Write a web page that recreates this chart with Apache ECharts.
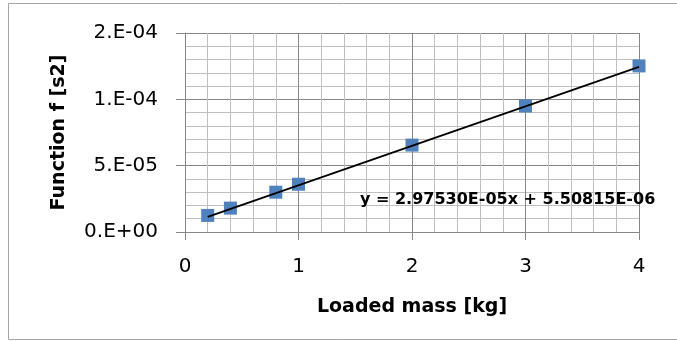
<!DOCTYPE html>
<html><head><meta charset="utf-8">
<script src="https://cdn.jsdelivr.net/npm/echarts@6/dist/echarts.min.js"></script>
<style>html,body{margin:0;padding:0;background:#fff}#c{width:677px;height:341px}</style>
</head><body><div id="c"></div>
<script>
var massKg = [0.2, 0.4, 0.8, 1, 2, 3, 4];
var functionF = [1.25e-5, 1.8e-5, 3.0e-5, 3.6e-5, 6.55e-5, 9.5e-5, 1.252e-4];
var trendX = [0.2, 4];
var trendY = [1.146e-5, 1.2452e-4];
var yTickLabels = ['0.E+00', '5.E-05', '1.E-04', '2.E-04'];
var xTickLabels = ['0', '1', '2', '3', '4'];
var equationText = 'y = 2.97530E-05x + 5.50815E-06';
var xTitle = 'Loaded mass [kg]';
var yTitle = 'Function f [s2]';

var chart = echarts.init(document.getElementById('c'));
var yInterval = 5e-5;
chart.setOption({
  animation: false,
  backgroundColor: '#fff',
  grid: {left: 185, right: 38, top: 33, bottom: 109},
  graphic: [
    {type: 'rect', shape: {x: 8.5, y: 3.5, width: 700, height: 336}, style: {fill: 'none', stroke: '#a6a6a6', lineWidth: 1}, z: -1},
    {type: 'text', left: 360, top: 192, style: {text: equationText, font: 'bold 16px "DejaVu Sans"', fill: '#000'}, z: 10}
  ],
  xAxis: {
    type: 'value', min: 0, max: 4, interval: 1,
    name: xTitle, nameLocation: 'middle', nameGap: 66,
    nameTextStyle: {fontFamily: 'DejaVu Sans', fontWeight: 'bold', fontSize: 19, color: '#000'},
    axisLine: {show: true, lineStyle: {color: '#868686', width: 1}},
    axisTick: {show: true, length: 8, lineStyle: {color: '#868686'}},
    axisLabel: {margin: 25, fontFamily: 'DejaVu Sans', fontSize: 20, color: '#000',
      formatter: function (v) { return xTickLabels[Math.round(v)]; }},
    splitLine: {show: true, lineStyle: {color: '#868686', width: 1}},
    minorTick: {show: false, splitNumber: 5},
    minorSplitLine: {show: true, lineStyle: {color: '#bfbfbf', width: 1}}
  },
  yAxis: {
    type: 'value', min: 0, max: 1.5e-4, interval: yInterval,
    name: yTitle, nameLocation: 'middle', nameGap: 116, nameRotate: 90,
    nameTextStyle: {fontFamily: 'DejaVu Sans', fontWeight: 'bold', fontSize: 19, color: '#000'},
    axisLine: {show: true, lineStyle: {color: '#868686', width: 1}},
    axisTick: {show: true, length: 9, lineStyle: {color: '#868686'}},
    axisLabel: {margin: 27, fontFamily: 'DejaVu Sans', fontSize: 20, color: '#000',
      formatter: function (v) { return yTickLabels[Math.round(v / yInterval)]; }},
    splitLine: {show: true, lineStyle: {color: '#868686', width: 1}},
    minorTick: {show: false, splitNumber: 5},
    minorSplitLine: {show: true, lineStyle: {color: '#bfbfbf', width: 1}}
  },
  series: [
    {type: 'scatter', symbol: 'rect', symbolSize: 13,
      itemStyle: {color: '#4f81bd', opacity: 1},
      data: massKg.map(function (x, i) { return [x, functionF[i]]; }), z: 3},
    {type: 'line', symbol: 'none', lineStyle: {color: '#000', width: 1.8},
      data: trendX.map(function (x, i) { return [x, trendY[i]]; }), z: 4}
  ]
});
</script></body></html>
